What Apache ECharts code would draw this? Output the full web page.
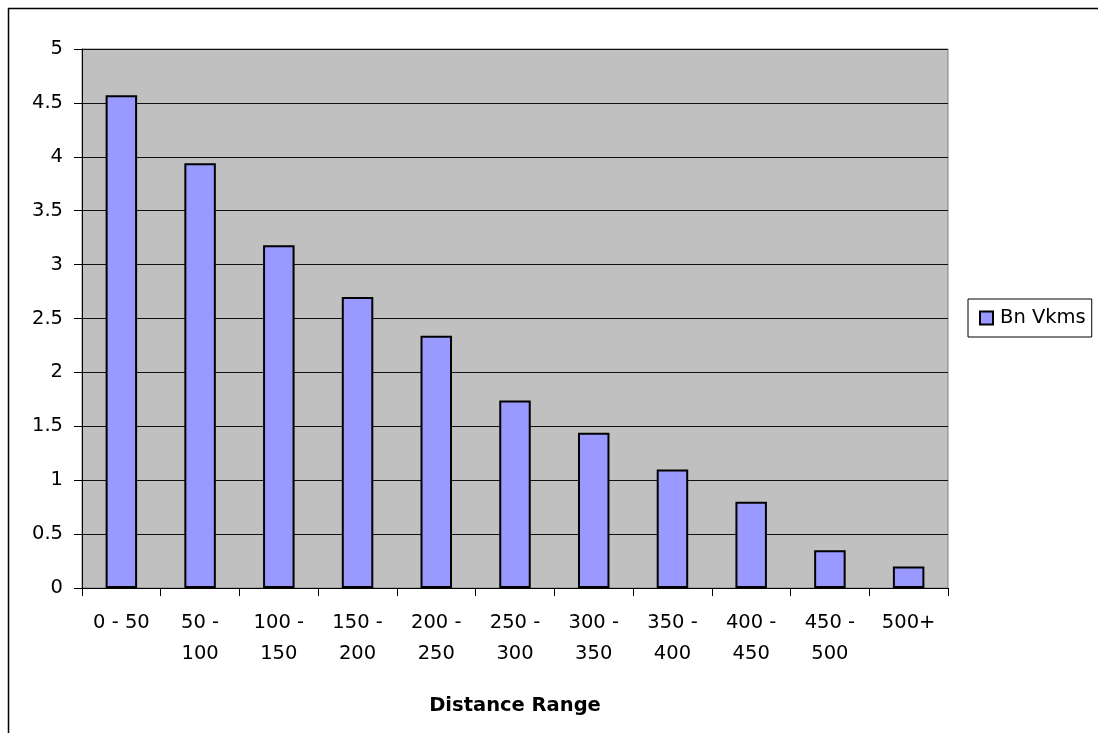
<!DOCTYPE html>
<html><head><meta charset="utf-8">
<script src="https://cdn.jsdelivr.net/npm/echarts@6/dist/echarts.min.js"></script>
<style>html,body{margin:0;padding:0;background:#fff}#c{width:1098px;height:733px}</style>
</head><body><div id="c"></div>
<script>
const categories = ['0 - 50','50 - 100','100 - 150','150 - 200','200 - 250','250 - 300','300 - 350','350 - 400','400 - 450','450 - 500','500+'];
const values = [4.57, 3.94, 3.18, 2.70, 2.34, 1.74, 1.44, 1.10, 0.80, 0.35, 0.20];
const seriesName = 'Bn Vkms';
const xTitle = 'Distance Range';

const chart = echarts.init(document.getElementById('c'), null, {renderer:'canvas'});
const font = '"DejaVu Sans", Arial, sans-serif';
const fs = 19.5;
chart.setOption({
  animation:false,
  backgroundColor:'#fff',
  textStyle:{fontFamily:font},
  graphic:[{type:'rect', silent:true, z:-1, shape:{x:8.5,y:8.5,width:1200,height:900}, style:{fill:'none',stroke:'#000',lineWidth:1.5}}],
  grid:{left:82, top:49, right:150, bottom:145, show:true, backgroundColor:'#c0c0c0', borderColor:'#808080', borderWidth:1},
  legend:{
    data:[seriesName], left:968, top:299, orient:'vertical',
    backgroundColor:'#fff', borderColor:'#000', borderWidth:1,
    padding:[9,6,9,11], itemWidth:13, itemHeight:13, itemGap:0,
    textStyle:{fontFamily:font, fontSize:fs, color:'#000', padding:[0,0,0,2]},
    icon:'rect'
  },
  xAxis:{
    type:'category', data:categories,
    name:xTitle, nameLocation:'middle', nameGap:108,
    nameTextStyle:{fontFamily:font, fontSize:fs, fontWeight:'bold', color:'#000'},
    axisLine:{lineStyle:{color:'#000', width:1}},
    axisTick:{show:true, length:8, lineStyle:{color:'#000'}, alignWithLabel:false},
    axisLabel:{interval:0, fontFamily:font, fontSize:fs, color:'#000', lineHeight:31, margin:19,
      formatter:v => v === '0 - 50' ? v : v.replace(' - ', ' -\n')}
  },
  yAxis:{
    type:'value', min:0, max:5, interval:0.5,
    axisLine:{show:true, lineStyle:{color:'#000', width:1}},
    axisTick:{show:true, length:8, lineStyle:{color:'#000'}},
    axisLabel:{fontFamily:font, fontSize:fs, color:'#000', margin:19},
    splitLine:{lineStyle:{color:'#111', width:1}}
  },
  series:[{
    name:seriesName, type:'bar', data:values, barWidth:'40%',
    itemStyle:{color:'#9999ff', borderColor:'#000', borderWidth:2}
  }]
});
</script></body></html>
